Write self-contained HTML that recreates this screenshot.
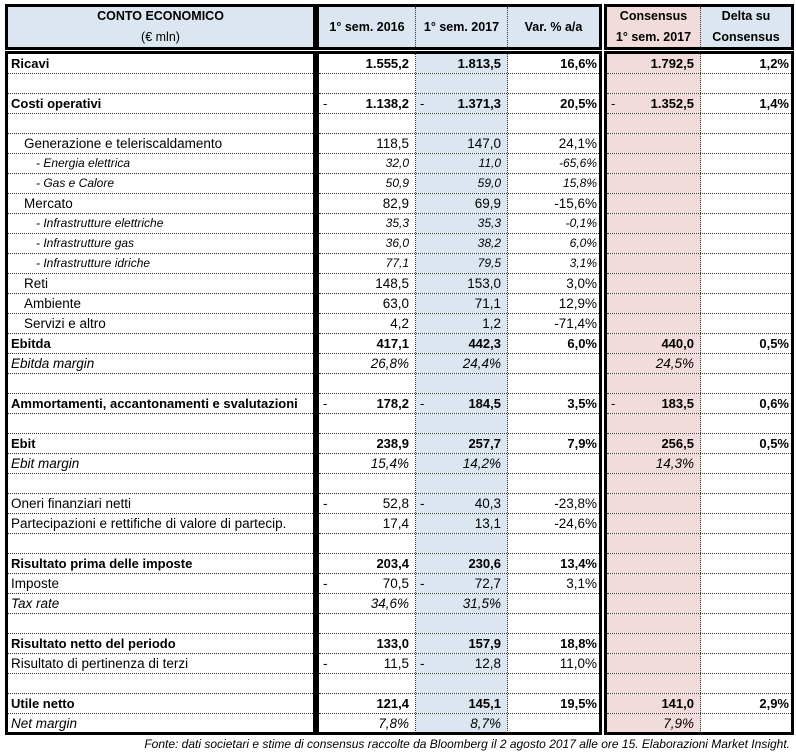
<!DOCTYPE html>
<html><head><meta charset="utf-8"><style>
*{box-sizing:border-box;margin:0;padding:0}
body{width:796px;height:755px;background:#fff;font-family:"Liberation Sans",sans-serif;font-size:13.5px;color:#000;position:relative;overflow:hidden}
.blk{position:absolute;border:3px solid #000;background:#fff;overflow:hidden}
.r{display:flex;height:20px;border-bottom:1px dotted #333;line-height:19px;white-space:nowrap}
.r:last-child{border-bottom:none;height:19px}
.c{position:relative;border-right:1px dotted #333;text-align:right;padding-right:6px;overflow:hidden}
.c:last-child{border-right:none}
.v{padding-right:2px}
.b{font-weight:bold;font-size:13px}
.i{font-style:italic}
.s{font-style:italic;font-size:12px;padding-left:28px !important}
.l{text-align:left;padding-left:3px}
.ind{padding-left:16px}
.d:before{content:"-";position:absolute;left:4px;font-weight:normal}
.blue{background:#dce6f1}
.pink{background:#f2dcdb}
.h{position:absolute;border:3px solid #000;display:flex;font-weight:bold;text-align:center;line-height:21px;font-size:12.5px}
.h>div{border-right:1px dotted #333;display:flex;align-items:center;justify-content:center;background:#dce6f1}
.h>div:last-child{border-right:none}
#foot{position:absolute;right:6px;top:737px;font-style:italic;font-size:12px}
</style></head><body>

<div class="h" style="left:5px;top:4px;width:311px;height:46px"><div style="width:305px;flex-direction:column">CONTO ECONOMICO<span style="font-weight:normal">(€ mln)</span></div></div>
<div class="h" style="left:316px;top:4px;width:286px;height:46px"><div style="width:97px">1° sem. 2016</div><div style="width:92px">1° sem. 2017</div><div style="width:91px">Var. % a/a</div></div>
<div class="h" style="left:604px;top:4px;width:190px;height:46px"><div style="width:94px;background:#f2dcdb">Consensus<br>1° sem. 2017</div><div style="width:90px">Delta su<br>Consensus</div></div>

<div class="blk" style="left:5px;top:51px;width:311px;height:684px">
<div class="r b"><div class="c l" style="width:305px">Ricavi</div></div>
<div class="r"><div class="c l" style="width:305px"></div></div>
<div class="r b"><div class="c l" style="width:305px">Costi operativi</div></div>
<div class="r"><div class="c l" style="width:305px"></div></div>
<div class="r"><div class="c l ind" style="width:305px">Generazione e teleriscaldamento</div></div>
<div class="r"><div class="c l s" style="width:305px">- Energia elettrica</div></div>
<div class="r"><div class="c l s" style="width:305px">- Gas e Calore</div></div>
<div class="r"><div class="c l ind" style="width:305px">Mercato</div></div>
<div class="r"><div class="c l s" style="width:305px">- Infrastrutture elettriche</div></div>
<div class="r"><div class="c l s" style="width:305px">- Infrastrutture gas</div></div>
<div class="r"><div class="c l s" style="width:305px">- Infrastrutture idriche</div></div>
<div class="r"><div class="c l ind" style="width:305px">Reti</div></div>
<div class="r"><div class="c l ind" style="width:305px">Ambiente</div></div>
<div class="r"><div class="c l ind" style="width:305px">Servizi e altro</div></div>
<div class="r b"><div class="c l" style="width:305px">Ebitda</div></div>
<div class="r i"><div class="c l" style="width:305px">Ebitda margin</div></div>
<div class="r"><div class="c l" style="width:305px"></div></div>
<div class="r b"><div class="c l" style="width:305px">Ammortamenti, accantonamenti e svalutazioni</div></div>
<div class="r"><div class="c l" style="width:305px"></div></div>
<div class="r b"><div class="c l" style="width:305px">Ebit</div></div>
<div class="r i"><div class="c l" style="width:305px">Ebit margin</div></div>
<div class="r"><div class="c l" style="width:305px"></div></div>
<div class="r"><div class="c l" style="width:305px">Oneri finanziari netti</div></div>
<div class="r"><div class="c l" style="width:305px">Partecipazioni e rettifiche di valore di partecip.</div></div>
<div class="r"><div class="c l" style="width:305px"></div></div>
<div class="r b"><div class="c l" style="width:305px">Risultato prima delle imposte</div></div>
<div class="r"><div class="c l" style="width:305px">Imposte</div></div>
<div class="r i"><div class="c l" style="width:305px">Tax rate</div></div>
<div class="r"><div class="c l" style="width:305px"></div></div>
<div class="r b"><div class="c l" style="width:305px">Risultato netto del periodo</div></div>
<div class="r"><div class="c l" style="width:305px">Risultato di pertinenza di terzi</div></div>
<div class="r"><div class="c l" style="width:305px"></div></div>
<div class="r b"><div class="c l" style="width:305px">Utile netto</div></div>
<div class="r i"><div class="c l" style="width:305px">Net margin</div></div>
</div>

<div class="blk" style="left:316px;top:51px;width:286px;height:684px">
<div class="r b"><div class="c" style="width:97px">1.555,2</div><div class="c blue" style="width:92px">1.813,5</div><div class="c v" style="width:91px">16,6%</div></div>
<div class="r"><div class="c" style="width:97px"></div><div class="c blue" style="width:92px"></div><div class="c v" style="width:91px"></div></div>
<div class="r b"><div class="c d" style="width:97px">1.138,2</div><div class="c blue d" style="width:92px">1.371,3</div><div class="c v" style="width:91px">20,5%</div></div>
<div class="r"><div class="c" style="width:97px"></div><div class="c blue" style="width:92px"></div><div class="c v" style="width:91px"></div></div>
<div class="r"><div class="c" style="width:97px">118,5</div><div class="c blue" style="width:92px">147,0</div><div class="c v" style="width:91px">24,1%</div></div>
<div class="r i" style="font-size:12px"><div class="c" style="width:97px">32,0</div><div class="c blue" style="width:92px">11,0</div><div class="c v" style="width:91px">-65,6%</div></div>
<div class="r i" style="font-size:12px"><div class="c" style="width:97px">50,9</div><div class="c blue" style="width:92px">59,0</div><div class="c v" style="width:91px">15,8%</div></div>
<div class="r"><div class="c" style="width:97px">82,9</div><div class="c blue" style="width:92px">69,9</div><div class="c v" style="width:91px">-15,6%</div></div>
<div class="r i" style="font-size:12px"><div class="c" style="width:97px">35,3</div><div class="c blue" style="width:92px">35,3</div><div class="c v" style="width:91px">-0,1%</div></div>
<div class="r i" style="font-size:12px"><div class="c" style="width:97px">36,0</div><div class="c blue" style="width:92px">38,2</div><div class="c v" style="width:91px">6,0%</div></div>
<div class="r i" style="font-size:12px"><div class="c" style="width:97px">77,1</div><div class="c blue" style="width:92px">79,5</div><div class="c v" style="width:91px">3,1%</div></div>
<div class="r"><div class="c" style="width:97px">148,5</div><div class="c blue" style="width:92px">153,0</div><div class="c v" style="width:91px">3,0%</div></div>
<div class="r"><div class="c" style="width:97px">63,0</div><div class="c blue" style="width:92px">71,1</div><div class="c v" style="width:91px">12,9%</div></div>
<div class="r"><div class="c" style="width:97px">4,2</div><div class="c blue" style="width:92px">1,2</div><div class="c v" style="width:91px">-71,4%</div></div>
<div class="r b"><div class="c" style="width:97px">417,1</div><div class="c blue" style="width:92px">442,3</div><div class="c v" style="width:91px">6,0%</div></div>
<div class="r i"><div class="c" style="width:97px">26,8%</div><div class="c blue" style="width:92px">24,4%</div><div class="c v" style="width:91px"></div></div>
<div class="r"><div class="c" style="width:97px"></div><div class="c blue" style="width:92px"></div><div class="c v" style="width:91px"></div></div>
<div class="r b"><div class="c d" style="width:97px">178,2</div><div class="c blue d" style="width:92px">184,5</div><div class="c v" style="width:91px">3,5%</div></div>
<div class="r"><div class="c" style="width:97px"></div><div class="c blue" style="width:92px"></div><div class="c v" style="width:91px"></div></div>
<div class="r b"><div class="c" style="width:97px">238,9</div><div class="c blue" style="width:92px">257,7</div><div class="c v" style="width:91px">7,9%</div></div>
<div class="r i"><div class="c" style="width:97px">15,4%</div><div class="c blue" style="width:92px">14,2%</div><div class="c v" style="width:91px"></div></div>
<div class="r"><div class="c" style="width:97px"></div><div class="c blue" style="width:92px"></div><div class="c v" style="width:91px"></div></div>
<div class="r"><div class="c d" style="width:97px">52,8</div><div class="c blue d" style="width:92px">40,3</div><div class="c v" style="width:91px">-23,8%</div></div>
<div class="r"><div class="c" style="width:97px">17,4</div><div class="c blue" style="width:92px">13,1</div><div class="c v" style="width:91px">-24,6%</div></div>
<div class="r"><div class="c" style="width:97px"></div><div class="c blue" style="width:92px"></div><div class="c v" style="width:91px"></div></div>
<div class="r b"><div class="c" style="width:97px">203,4</div><div class="c blue" style="width:92px">230,6</div><div class="c v" style="width:91px">13,4%</div></div>
<div class="r"><div class="c d" style="width:97px">70,5</div><div class="c blue d" style="width:92px">72,7</div><div class="c v" style="width:91px">3,1%</div></div>
<div class="r i"><div class="c" style="width:97px">34,6%</div><div class="c blue" style="width:92px">31,5%</div><div class="c v" style="width:91px"></div></div>
<div class="r"><div class="c" style="width:97px"></div><div class="c blue" style="width:92px"></div><div class="c v" style="width:91px"></div></div>
<div class="r b"><div class="c" style="width:97px">133,0</div><div class="c blue" style="width:92px">157,9</div><div class="c v" style="width:91px">18,8%</div></div>
<div class="r"><div class="c d" style="width:97px">11,5</div><div class="c blue d" style="width:92px">12,8</div><div class="c v" style="width:91px">11,0%</div></div>
<div class="r"><div class="c" style="width:97px"></div><div class="c blue" style="width:92px"></div><div class="c v" style="width:91px"></div></div>
<div class="r b"><div class="c" style="width:97px">121,4</div><div class="c blue" style="width:92px">145,1</div><div class="c v" style="width:91px">19,5%</div></div>
<div class="r i"><div class="c" style="width:97px">7,8%</div><div class="c blue" style="width:92px">8,7%</div><div class="c v" style="width:91px"></div></div>
</div>

<div class="blk" style="left:604px;top:51px;width:190px;height:684px">
<div class="r b"><div class="c pink" style="width:94px">1.792,5</div><div class="c v" style="width:90px">1,2%</div></div>
<div class="r"><div class="c pink" style="width:94px"></div><div class="c" style="width:90px"></div></div>
<div class="r b"><div class="c pink d" style="width:94px">1.352,5</div><div class="c v" style="width:90px">1,4%</div></div>
<div class="r"><div class="c pink" style="width:94px"></div><div class="c" style="width:90px"></div></div>
<div class="r"><div class="c pink" style="width:94px"></div><div class="c" style="width:90px"></div></div>
<div class="r"><div class="c pink" style="width:94px"></div><div class="c" style="width:90px"></div></div>
<div class="r"><div class="c pink" style="width:94px"></div><div class="c" style="width:90px"></div></div>
<div class="r"><div class="c pink" style="width:94px"></div><div class="c" style="width:90px"></div></div>
<div class="r"><div class="c pink" style="width:94px"></div><div class="c" style="width:90px"></div></div>
<div class="r"><div class="c pink" style="width:94px"></div><div class="c" style="width:90px"></div></div>
<div class="r"><div class="c pink" style="width:94px"></div><div class="c" style="width:90px"></div></div>
<div class="r"><div class="c pink" style="width:94px"></div><div class="c" style="width:90px"></div></div>
<div class="r"><div class="c pink" style="width:94px"></div><div class="c" style="width:90px"></div></div>
<div class="r"><div class="c pink" style="width:94px"></div><div class="c" style="width:90px"></div></div>
<div class="r b"><div class="c pink" style="width:94px">440,0</div><div class="c v" style="width:90px">0,5%</div></div>
<div class="r i"><div class="c pink" style="width:94px">24,5%</div><div class="c" style="width:90px"></div></div>
<div class="r"><div class="c pink" style="width:94px"></div><div class="c" style="width:90px"></div></div>
<div class="r b"><div class="c pink d" style="width:94px">183,5</div><div class="c v" style="width:90px">0,6%</div></div>
<div class="r"><div class="c pink" style="width:94px"></div><div class="c" style="width:90px"></div></div>
<div class="r b"><div class="c pink" style="width:94px">256,5</div><div class="c v" style="width:90px">0,5%</div></div>
<div class="r i"><div class="c pink" style="width:94px">14,3%</div><div class="c" style="width:90px"></div></div>
<div class="r"><div class="c pink" style="width:94px"></div><div class="c" style="width:90px"></div></div>
<div class="r"><div class="c pink" style="width:94px"></div><div class="c" style="width:90px"></div></div>
<div class="r"><div class="c pink" style="width:94px"></div><div class="c" style="width:90px"></div></div>
<div class="r"><div class="c pink" style="width:94px"></div><div class="c" style="width:90px"></div></div>
<div class="r"><div class="c pink" style="width:94px"></div><div class="c" style="width:90px"></div></div>
<div class="r"><div class="c pink" style="width:94px"></div><div class="c" style="width:90px"></div></div>
<div class="r"><div class="c pink" style="width:94px"></div><div class="c" style="width:90px"></div></div>
<div class="r"><div class="c pink" style="width:94px"></div><div class="c" style="width:90px"></div></div>
<div class="r"><div class="c pink" style="width:94px"></div><div class="c" style="width:90px"></div></div>
<div class="r"><div class="c pink" style="width:94px"></div><div class="c" style="width:90px"></div></div>
<div class="r"><div class="c pink" style="width:94px"></div><div class="c" style="width:90px"></div></div>
<div class="r b"><div class="c pink" style="width:94px">141,0</div><div class="c v" style="width:90px">2,9%</div></div>
<div class="r i"><div class="c pink" style="width:94px">7,9%</div><div class="c" style="width:90px"></div></div>
</div>

<div id="foot">Fonte: dati societari e stime di consensus raccolte da Bloomberg il 2 agosto 2017 alle ore 15. Elaborazioni Market Insight.</div>
</body></html>
